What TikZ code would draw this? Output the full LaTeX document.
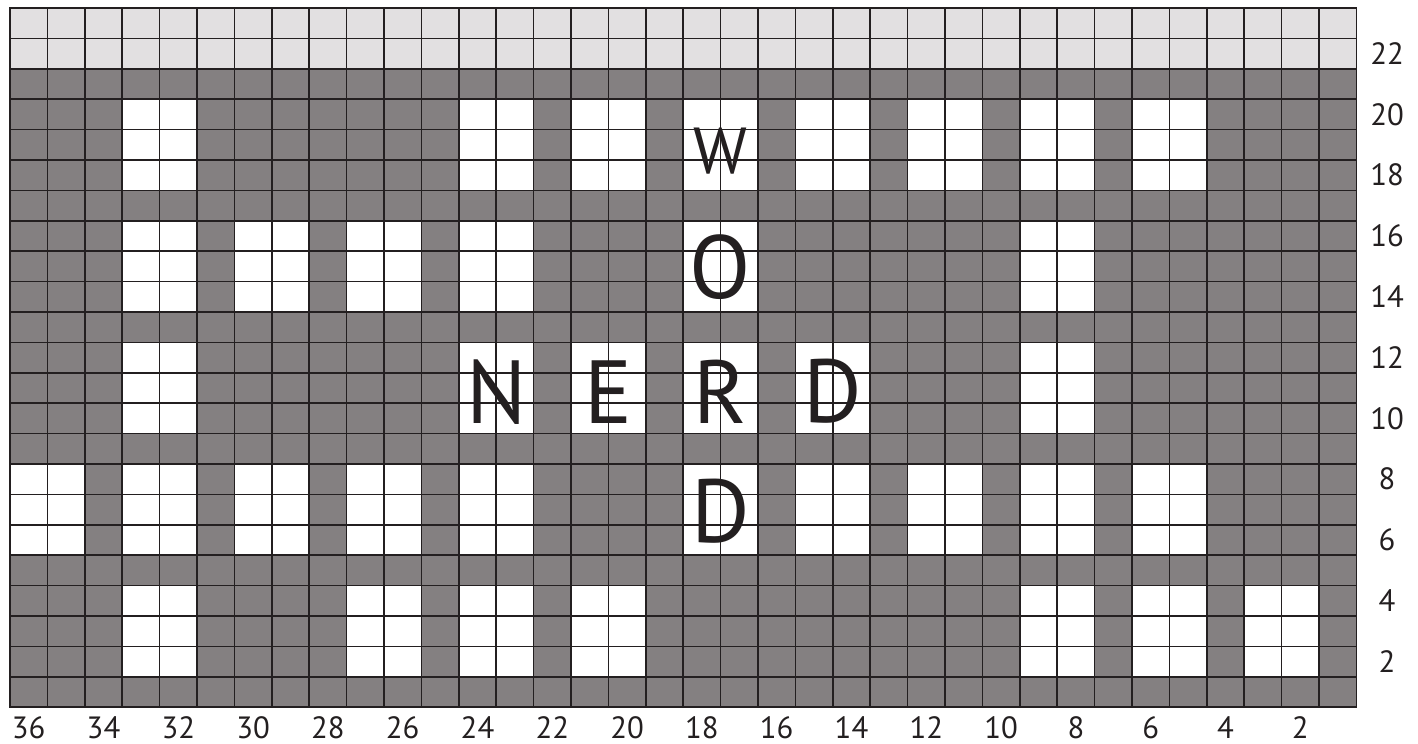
\documentclass[tikz,border=0pt]{standalone}
\usepackage{fontspec}
\setmainfont{PT Sans}
\usepackage{tikz}
\usetikzlibrary{positioning}
\definecolor{cDark}{HTML}{848081}
\definecolor{cLight}{HTML}{E2E0E1}
\definecolor{cLine}{HTML}{231F20}
\tikzset{
  darkcell/.style={fill=cDark},
  lightcell/.style={fill=cLight},
  opencell/.style={fill=white},
  gridln/.style={draw=cLine,line width=1pt},
  numlbl/.style={font=\fontsize{17.5}{20}\selectfont,text=cLine,inner sep=0pt},
  letter/.style={font=\fontsize{51}{56}\selectfont,text=cLine,inner sep=0pt},
  smallletter/.style={letter,font=\fontsize{37}{40}\selectfont}}
\begin{document}
\begin{tikzpicture}[x=0.748cm,y=0.608cm]
\useasboundingbox (-0.2674,-1.2105) rectangle (37.647,23.263);
\fill[darkcell] (0,0) rectangle (36,21);
\fill[lightcell] (0,21) rectangle (36,23);
% open 2x3 blocks, rows 18-20, 14-16, 10-12, 6-8, 2-4
\foreach \i in {3,12,15,18,21,24,27,30} \fill[opencell] (\i,17) rectangle ++(2,3);
\foreach \i in {3,6,9,12,18,27} \fill[opencell] (\i,13) rectangle ++(2,3);
\foreach \i in {3,12,15,18,21,27} \fill[opencell] (\i,9) rectangle ++(2,3);
\foreach \i in {0,3,6,9,12,18,21,24,27,30} \fill[opencell] (\i,5) rectangle ++(2,3);
\foreach \i in {3,9,12,15,27,30,33} \fill[opencell] (\i,1) rectangle ++(2,3);
\foreach \i in {0,...,36} \draw[gridln] (\i,0) -- (\i,23);
\foreach \j in {0,...,23} \draw[gridln] (0,\j) -- (36,\j);
\draw[gridln] (0,0) rectangle (36,23);
% labels
\foreach \c in {2,4,...,36} \node[numlbl] (col\c) at (36-\c+0.5,-0.66) {\c};
\foreach \r in {2,4,...,22} \node[numlbl] (row\r) at (36.82,\r-0.5) {\r};
\node[smallletter] (w)  at (19,18.28) {W};
\node[letter] (o)  at (19,14.47) {O};
\node[letter] (n)  at (13,10.38) {N};
\node[letter] (e)  at (16,10.38) {E};
\node[letter] (r)  at (19,10.38) {R};
\node[letter] (d1) at (22,10.38) {D};
\node[letter] (d2) at (19,6.45) {D};
\end{tikzpicture}
\end{document}
